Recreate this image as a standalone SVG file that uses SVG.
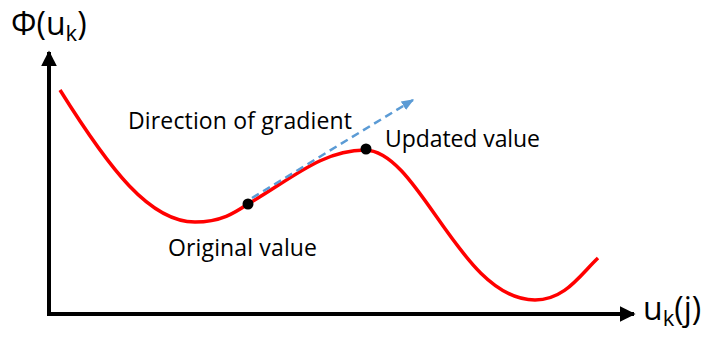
<svg xmlns="http://www.w3.org/2000/svg" width="710" height="337" viewBox="0 0 710 337">
<style>
text{font-family:"Open Sans","Liberation Sans",sans-serif;fill:#000}
.lbl{font-size:23px}
.ax{font-size:32px}
.sub{font-size:22px}
</style>
<defs>
<marker id="ah" viewBox="0 0 10 10" refX="9" refY="5" markerWidth="4" markerHeight="4" orient="auto"><path d="M0,0L10,5L0,10z" fill="#000"/></marker>
<marker id="bh" viewBox="0 0 10 10" refX="9" refY="5" markerWidth="5" markerHeight="5" orient="auto"><path d="M0,1L10,5L0,9z" fill="#5b9bd5"/></marker>
</defs>
<g id="connectors">
<line x1="49" y1="314" x2="49" y2="52" stroke="#000" stroke-width="4" marker-end="url(#ah)"/>
<line x1="47" y1="314" x2="634" y2="314" stroke="#000" stroke-width="4" marker-end="url(#ah)"/>
<path d="M60,90 C110,170 150,222 195,222 C222,222 236,212 248,204 C290,180 322,150 365,150 C420,151 460,300 535,300 C565,300 580,275 598,258" fill="none" stroke="#ff0000" stroke-width="3.5"/>
<line x1="252" y1="198" x2="413" y2="100" stroke="#5b9bd5" stroke-width="2.5" stroke-dasharray="8,5" marker-end="url(#bh)"/>
</g>
<g id="original"><circle cx="248" cy="204" r="5.5" fill="#000"/><text class="lbl" x="168" y="256" textLength="149">Original value</text></g>
<g id="updated"><circle cx="366" cy="149" r="5.5" fill="#000"/><text class="lbl" x="385" y="147" textLength="155">Updated value</text></g>
<g id="gradient"><text class="lbl" x="128" y="129" textLength="224">Direction of gradient</text></g>
<g id="yaxis"><text class="ax" x="11" y="35">Φ(u<tspan class="sub" dy="6">k</tspan><tspan dy="-6">)</tspan></text></g>
<g id="xaxis"><text class="ax" x="643" y="320">u<tspan class="sub" dy="6">k</tspan><tspan dy="-6">(j)</tspan></text></g>
</svg>
